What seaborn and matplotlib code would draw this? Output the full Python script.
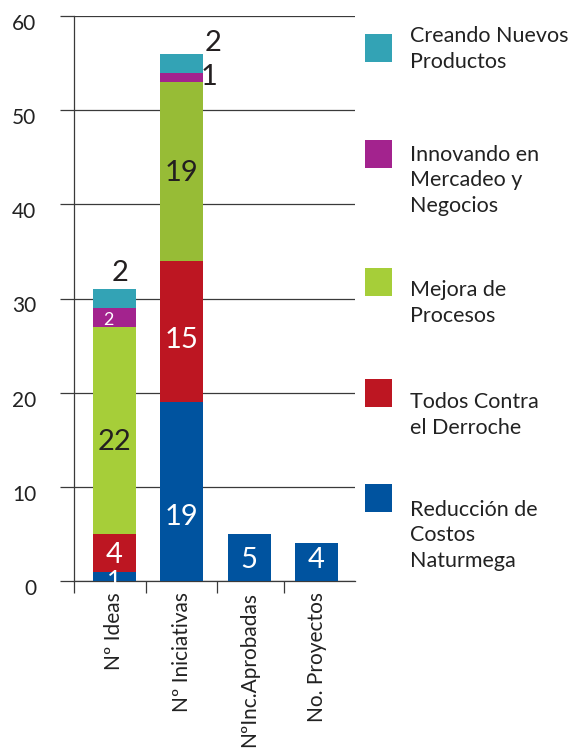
import matplotlib
matplotlib.use("Agg")
import matplotlib.pyplot as plt
import matplotlib.transforms as mtransforms
import seaborn as sns
import numpy as np
from matplotlib.patches import Rectangle

# ---------------- data ----------------
categories = ["Nº Ideas", "Nº Iniciativas", "NºInc.Aprobadas", "No. Proyectos"]
reduccion = [1, 19, 5, 4]      # Reducción de Costos Naturmega
todos = [4, 15, 0, 0]          # Todos Contra el Derroche
mejora = [22, 19, 0, 0]        # Mejora de Procesos
innovando = [2, 1, 0, 0]       # Innovando en Mercadeo y Negocios
creando = [2, 2, 0, 0]         # Creando Nuevos Productos
series_labels = ["Reducción de\nCostos\nNaturmega", "Todos Contra\nel Derroche",
                 "Mejora de\nProcesos", "Innovando en\nMercadeo y\nNegocios",
                 "Creando Nuevos\nProductos"]
yticks = [0, 10, 20, 30, 40, 50, 60]

# ---------------- style ----------------
sns.set_theme(style="white")
plt.rcParams['font.family'] = ['Lato', 'DejaVu Sans']

colors = ["#00539F", "#BD1622", "#A6CE39", "#A3238E", "#33A3B5"]
green_dark = "#97BC36"
line_col = "#3a3a3a"
txt_dark = "#231F20"

W, H = 576, 754
fig = plt.figure(figsize=(W / 100, H / 100), dpi=100)
ax = fig.add_axes([74 / W, 1 - 581 / H, (355 - 74) / W, (581 - 16) / H])

layers = [reduccion, todos, mejora, innovando, creando]
bottom = np.zeros(len(categories))
bottoms = []
for vals, col in zip(layers, colors):
    bottoms.append(bottom.copy())
    sns.barplot(x=categories, y=vals, bottom=bottom.copy(), color=col,
                width=0.64, saturation=1, linewidth=0, errorbar=None,
                ax=ax, zorder=3)
    bottom = bottom + np.array(vals)

# second bar's green is a slightly darker tone
ax.containers[2].patches[1].set_facecolor(green_dark)

ax.set_xlim(-0.6, 3.57)
ax.set_ylim(0, 60)
ax.set_yticks(yticks)
ax.set_axisbelow(True)
ax.yaxis.grid(True, color=line_col, linewidth=0.9)
ax.xaxis.grid(False)
for s in ["top", "right"]:
    ax.spines[s].set_visible(False)
for s in ["left", "bottom"]:
    ax.spines[s].set_color(line_col)
    ax.spines[s].set_linewidth(0.9)
ax.set_xlabel("")
ax.set_ylabel("")

ax.tick_params(axis="y", which="major", length=10, width=0.9, color=line_col,
               direction="out", pad=17, labelsize=15, labelcolor="#222222", left=True)
# y tick labels sit slightly below their gridlines in the reference
shift = mtransforms.ScaledTranslation(0, -6 / 100, fig.dpi_scale_trans)
for lab in ax.get_yticklabels():
    lab.set_transform(lab.get_transform() + shift)

ax.set_xticks(range(len(categories)))
ax.set_xticklabels(categories, rotation=90, fontsize=15, color="#222222")
ax.tick_params(axis="x", which="major", length=0, pad=8, bottom=True)
ax.set_xticks([-0.6, 0.47, 1.52, 2.52], minor=True)
ax.tick_params(axis="x", which="minor", length=8.6, width=0.9, color=line_col,
               direction="out", bottom=True)

# ---------------- value labels ----------------
# (bar index, layer index, dx, dy from segment middle, colour, size)
label_layout = [
    (0, 0, 0.0, -0.4, "white", 18),
    (0, 1, 0.0, -0.25, "white", 21),
    (0, 2, 0.0, -1.2, txt_dark, 21),
    (0, 3, -0.09, -0.3, "white", 13),
    (0, 4, 0.09, 2.7, txt_dark, 21),
    (1, 0, 0.0, -2.7, "white", 21),
    (1, 1, 0.0, -0.9, "white", 21),
    (1, 2, 0.0, -0.2, txt_dark, 21),
    (1, 3, 0.41, 0.0, txt_dark, 21),
    (1, 4, 0.46, 2.1, txt_dark, 21),
    (2, 0, 0.0, -0.3, "white", 21),
    (3, 0, 0.0, 0.2, "white", 21),
]
for bi, li, dx, dy, col, sz in label_layout:
    v = layers[li][bi]
    ymid = bottoms[li][bi] + v / 2
    ax.text(bi + dx, ymid + dy, str(v), ha="center", va="center",
            color=col, fontsize=sz, zorder=5, clip_on=False)

# ---------------- legend ----------------
leg_order = [4, 3, 2, 1, 0]
sq_tops = [34, 140, 268, 379, 484]
first_base = [41, 158, 295, 407, 513]
line_gap = 27
for li, st, tb in zip(leg_order, sq_tops, first_base):
    fig.add_artist(Rectangle((365 / W, 1 - (st + 28) / H), 27 / W, 28 / H,
                             transform=fig.transFigure, facecolor=colors[li],
                             edgecolor="none"))
    nlines = series_labels[li].count("\n") + 1
    last_base = tb + (nlines - 1) * line_gap
    fig.text(410 / W, 1 - last_base / H, series_labels[li], ha="left", va="baseline",
             fontsize=15.5, color="#222222", linespacing=1.35)

fig.savefig("out.png", dpi=100)
